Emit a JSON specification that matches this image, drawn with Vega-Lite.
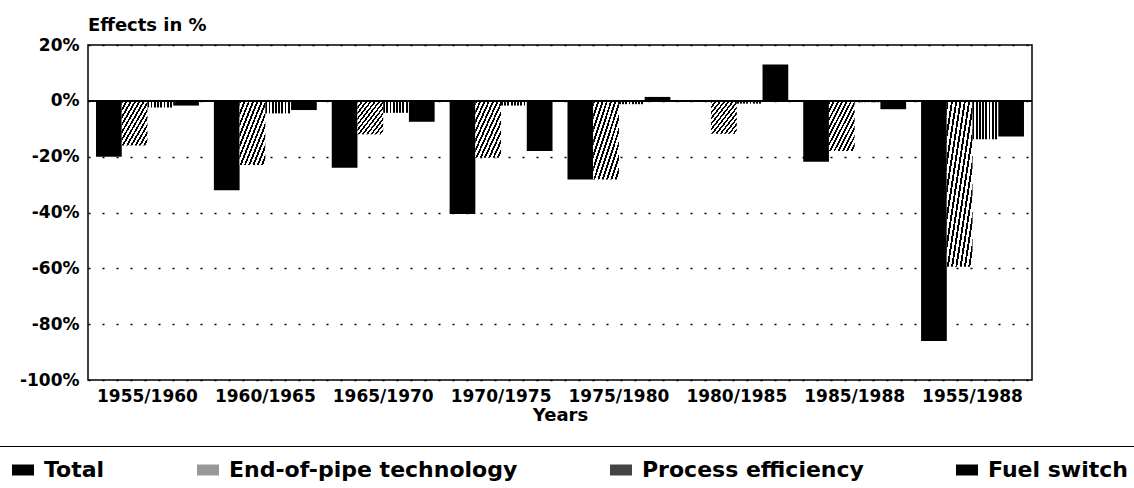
{
  "$schema": "https://vega.github.io/schema/vega-lite/v6.json",
  "width": 944,
  "height": 335,
  "autosize": {"type": "none"},
  "padding": {"left": 88, "top": 45, "right": 102, "bottom": 108},
  "background": "white",
  "title": {"text": "Effects in %", "anchor": "start", "frame": "group", "font": "DejaVu Sans", "fontSize": 18, "fontWeight": "bold", "color": "black", "offset": 1},
  "config": {
    "view": {"stroke": "black", "strokeWidth": 1.5},
    "axis": {"labelFont": "DejaVu Sans", "labelFontWeight": "bold", "labelColor": "black", "titleFont": "DejaVu Sans", "titleFontWeight": "bold", "titleColor": "black", "domain": false, "ticks": false}
  },
  "data": {"values": [
    {"period": "1955/1960", "type": "Total", "value": -20},
    {"period": "1955/1960", "type": "End-of-pipe technology", "value": -16},
    {"period": "1955/1960", "type": "Process efficiency", "value": -2.4},
    {"period": "1955/1960", "type": "Fuel switch", "value": -1.7},
    {"period": "1960/1965", "type": "Total", "value": -32},
    {"period": "1960/1965", "type": "End-of-pipe technology", "value": -23},
    {"period": "1960/1965", "type": "Process efficiency", "value": -4.5},
    {"period": "1960/1965", "type": "Fuel switch", "value": -3.3},
    {"period": "1965/1970", "type": "Total", "value": -24},
    {"period": "1965/1970", "type": "End-of-pipe technology", "value": -12},
    {"period": "1965/1970", "type": "Process efficiency", "value": -4.3},
    {"period": "1965/1970", "type": "Fuel switch", "value": -7.5},
    {"period": "1970/1975", "type": "Total", "value": -40.5},
    {"period": "1970/1975", "type": "End-of-pipe technology", "value": -20.4},
    {"period": "1970/1975", "type": "Process efficiency", "value": -1.7},
    {"period": "1970/1975", "type": "Fuel switch", "value": -18},
    {"period": "1975/1980", "type": "Total", "value": -28.2},
    {"period": "1975/1980", "type": "End-of-pipe technology", "value": -28.2},
    {"period": "1975/1980", "type": "Process efficiency", "value": -1.2},
    {"period": "1975/1980", "type": "Fuel switch", "value": 1.4},
    {"period": "1980/1985", "type": "Total", "value": 0},
    {"period": "1980/1985", "type": "End-of-pipe technology", "value": -11.8},
    {"period": "1980/1985", "type": "Process efficiency", "value": -1},
    {"period": "1980/1985", "type": "Fuel switch", "value": 13},
    {"period": "1985/1988", "type": "Total", "value": -21.8},
    {"period": "1985/1988", "type": "End-of-pipe technology", "value": -18},
    {"period": "1985/1988", "type": "Process efficiency", "value": -0.5},
    {"period": "1985/1988", "type": "Fuel switch", "value": -3},
    {"period": "1955/1988", "type": "Total", "value": -86},
    {"period": "1955/1988", "type": "End-of-pipe technology", "value": -59.4},
    {"period": "1955/1988", "type": "Process efficiency", "value": -13.8},
    {"period": "1955/1988", "type": "Fuel switch", "value": -12.8}
  ]},
  "layer": [
    {
      "mark": {"type": "bar"},
      "encoding": {
        "x": {"field": "period", "type": "nominal", "sort": null, "title": "Years",
          "scale": {"paddingInner": 0.127, "paddingOuter": 0.068},
          "axis": {"labelAngle": 0, "labelFontSize": 17, "labelPadding": 8, "titleFontSize": 18, "titlePadding": 2}},
        "xOffset": {"field": "type", "type": "nominal", "sort": ["Total", "End-of-pipe technology", "Process efficiency", "Fuel switch"],
          "scale": {"paddingInner": 0, "paddingOuter": 0}},
        "y": {"field": "value", "type": "quantitative", "title": null,
          "scale": {"domain": [-100, 20], "nice": false, "zero": false},
          "axis": {"values": [-100, -80, -60, -40, -20, 0, 20], "labelExpr": "datum.value + '%'", "labelFontSize": 17, "labelPadding": 9,
            "grid": true, "gridColor": "black", "gridDash": [2, 12], "gridWidth": 1.5}},
        "fill": {"field": "type", "type": "nominal",
          "scale": {"domain": ["Total", "End-of-pipe technology", "Process efficiency", "Fuel switch"],
            "range": ["black", "#999999", "#444444", "black"]},
          "condition": [
            {"test": "datum.type === 'End-of-pipe technology'", "value": {"gradient": "linear", "x1": 0, "y1": 0, "x2": 1, "y2": 1, "stops": [
                {"offset": 0, "color": "black"}, {"offset": 0.0375, "color": "black"}, {"offset": 0.0375, "color": "white"}, {"offset": 0.0833, "color": "white"},
                {"offset": 0.0833, "color": "black"}, {"offset": 0.1208, "color": "black"}, {"offset": 0.1208, "color": "white"}, {"offset": 0.1667, "color": "white"},
                {"offset": 0.1667, "color": "black"}, {"offset": 0.2042, "color": "black"}, {"offset": 0.2042, "color": "white"}, {"offset": 0.25, "color": "white"},
                {"offset": 0.25, "color": "black"}, {"offset": 0.2875, "color": "black"}, {"offset": 0.2875, "color": "white"}, {"offset": 0.3333, "color": "white"},
                {"offset": 0.3333, "color": "black"}, {"offset": 0.3708, "color": "black"}, {"offset": 0.3708, "color": "white"}, {"offset": 0.4167, "color": "white"},
                {"offset": 0.4167, "color": "black"}, {"offset": 0.4542, "color": "black"}, {"offset": 0.4542, "color": "white"}, {"offset": 0.5, "color": "white"},
                {"offset": 0.5, "color": "black"}, {"offset": 0.5375, "color": "black"}, {"offset": 0.5375, "color": "white"}, {"offset": 0.5833, "color": "white"},
                {"offset": 0.5833, "color": "black"}, {"offset": 0.6208, "color": "black"}, {"offset": 0.6208, "color": "white"}, {"offset": 0.6667, "color": "white"},
                {"offset": 0.6667, "color": "black"}, {"offset": 0.7042, "color": "black"}, {"offset": 0.7042, "color": "white"}, {"offset": 0.75, "color": "white"},
                {"offset": 0.75, "color": "black"}, {"offset": 0.7875, "color": "black"}, {"offset": 0.7875, "color": "white"}, {"offset": 0.8333, "color": "white"},
                {"offset": 0.8333, "color": "black"}, {"offset": 0.8708, "color": "black"}, {"offset": 0.8708, "color": "white"}, {"offset": 0.9167, "color": "white"},
                {"offset": 0.9167, "color": "black"}, {"offset": 0.9542, "color": "black"}, {"offset": 0.9542, "color": "white"}, {"offset": 1, "color": "white"}
              ]}},
            {"test": "datum.type === 'Process efficiency'", "value": {"gradient": "linear", "x1": 0, "y1": 0, "x2": 1, "y2": 0, "stops": [
                {"offset": 0, "color": "black"}, {"offset": 0.07, "color": "black"}, {"offset": 0.07, "color": "white"}, {"offset": 0.125, "color": "white"},
                {"offset": 0.125, "color": "black"}, {"offset": 0.195, "color": "black"}, {"offset": 0.195, "color": "white"}, {"offset": 0.25, "color": "white"},
                {"offset": 0.25, "color": "black"}, {"offset": 0.32, "color": "black"}, {"offset": 0.32, "color": "white"}, {"offset": 0.375, "color": "white"},
                {"offset": 0.375, "color": "black"}, {"offset": 0.445, "color": "black"}, {"offset": 0.445, "color": "white"}, {"offset": 0.5, "color": "white"},
                {"offset": 0.5, "color": "black"}, {"offset": 0.57, "color": "black"}, {"offset": 0.57, "color": "white"}, {"offset": 0.625, "color": "white"},
                {"offset": 0.625, "color": "black"}, {"offset": 0.695, "color": "black"}, {"offset": 0.695, "color": "white"}, {"offset": 0.75, "color": "white"},
                {"offset": 0.75, "color": "black"}, {"offset": 0.82, "color": "black"}, {"offset": 0.82, "color": "white"}, {"offset": 0.875, "color": "white"},
                {"offset": 0.875, "color": "black"}, {"offset": 0.945, "color": "black"}, {"offset": 0.945, "color": "white"}, {"offset": 1, "color": "white"}
              ]}}
          ],
          "legend": {"orient": "none", "legendX": -89, "legendY": 401, "direction": "horizontal", "columns": 4, "title": null,
            "labelFont": "DejaVu Sans", "labelFontWeight": "bold", "labelFontSize": 22, "labelColor": "black", "labelLimit": 500, "labelOffset": 10,
            "symbolType": "M-1,-0.5H1V0.5H-1Z", "symbolSize": 484, "symbolStrokeWidth": 0, "symbolOpacity": 1,
            "columnPadding": 92, "padding": 13, "strokeColor": "black"}}
      }
    },
    {
      "mark": {"type": "rule", "color": "black", "strokeWidth": 1.5},
      "encoding": {"y": {"datum": 0}}
    }
  ]
}
